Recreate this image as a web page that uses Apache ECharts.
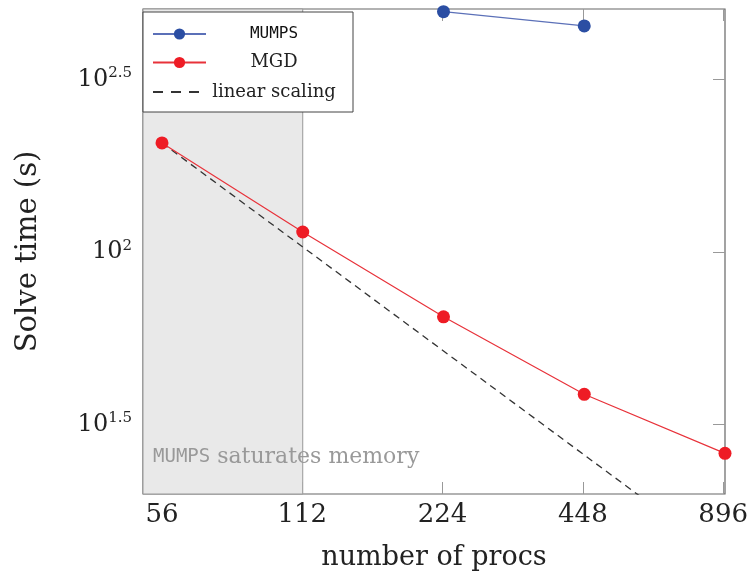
<!DOCTYPE html>
<html>
<head>
<meta charset="utf-8">
<script src="https://cdn.jsdelivr.net/npm/echarts@6/dist/echarts.min.js"></script>
<style>
  html, body { margin: 0; padding: 0; background: #fff; }
  #main { width: 751px; height: 577px; }
</style>
</head>
<body>
<div id="main"></div>
<script>
// processor counts and solve times (s)
var procs = [56, 112, 224, 448, 896];
var procLabels = ['56', '112', '224', '448', '896'];
var mumpsProcs = [224, 448];
var mumpsTime = [497, 452];
var mgdTime = [207, 114.3, 64.9, 38.7, 26.1];
var linearProcs = [56, 896];
var linearTime = [207, 12.9];
// y tick range (10^1.5 .. 10^2.5)
var yTickMin = 31.6227766;
var yTickMax = 316.227766;

var serif = '"DejaVu Serif", "Liberation Serif", serif';
var mono = '"DejaVu Sans Mono", "Liberation Mono", monospace';

function pairs(xs, ys) {
    var out = [];
    for (var i = 0; i < xs.length; i++) out.push([xs[i], ys[i]]);
    return out;
}

var tickStyle = { show: true, inside: true, length: 12, lineStyle: { color: '#999' } };

var myChart = echarts.init(document.getElementById('main'));
myChart.setOption({
    animation: false,
    grid: [
        // plot box
        { left: 143, right: 26, top: 9, bottom: 83, show: true, borderColor: '#666', borderWidth: 1.2 },
        // x ticks / labels
        { left: 162, right: 26, top: 9, bottom: 83 },
        // y ticks / labels
        { left: 143, right: 26, top: 79.5, bottom: 152.5 }
    ],
    legend: {
        orient: 'vertical',
        left: 143,
        top: 12,
        padding: [14, 16, 11, 9],
        itemWidth: 53,
        itemHeight: 14,
        itemGap: 11.5,
        backgroundColor: '#fff',
        borderColor: '#444',
        borderWidth: 1,
        formatter: function (name) {
            return name === 'MUMPS' ? '{m|' + name + '}' : '{a|' + name + '}';
        },
        textStyle: {
            rich: {
                a: { fontFamily: serif, fontSize: 18, color: '#222', width: 126, align: 'center', lineHeight: 20 },
                m: { fontFamily: mono, fontSize: 16, color: '#111', width: 126, align: 'center', lineHeight: 20 }
            }
        },
        data: [
            { name: 'MUMPS' },
            { name: 'MGD' },
            { name: 'linear scaling', itemStyle: { opacity: 0 }, lineStyle: { type: [10, 8] } }
        ]
    },
    graphic: [{
        type: 'text', left: 153, top: 446, z: 100, silent: true,
        style: {
            text: '{m|MUMPS}{t| saturates memory}',
            rich: {
                m: { fontFamily: mono, fontSize: 19, fill: '#999', lineHeight: 26 },
                t: { fontFamily: serif, fontSize: 22, fill: '#999', lineHeight: 26 }
            }
        }
    }],
    xAxis: [
        {
            type: 'log', logBase: 2, min: 51, max: 896, gridIndex: 0,
            name: 'number of procs', nameLocation: 'middle', nameGap: 50,
            nameTextStyle: { fontFamily: serif, fontSize: 27, color: '#222' },
            axisLine: { show: false }, axisTick: { show: false }, axisLabel: { show: false },
            splitLine: { show: false }
        },
        {
            type: 'category', data: procLabels, boundaryGap: false, gridIndex: 1, position: 'bottom',
            axisLine: { show: false },
            axisTick: tickStyle,
            axisLabel: { fontFamily: serif, fontSize: 26, color: '#222', margin: 8 },
            splitLine: { show: false }
        },
        {
            type: 'category', data: procLabels, boundaryGap: false, gridIndex: 1, position: 'top',
            axisLine: { show: false }, axisTick: tickStyle, axisLabel: { show: false },
            splitLine: { show: false }
        },
        { type: 'value', gridIndex: 2, show: false }
    ],
    yAxis: [
        {
            type: 'log', logBase: 10, min: 19.9, max: 506, gridIndex: 0,
            name: 'Solve time (s)', nameLocation: 'middle', nameGap: 100,
            nameTextStyle: { fontFamily: serif, fontSize: 29, color: '#222' },
            axisLine: { show: false }, axisTick: { show: false }, axisLabel: { show: false },
            splitLine: { show: false }
        },
        { type: 'value', gridIndex: 1, show: false },
        {
            type: 'log', logBase: 10, min: yTickMin, max: yTickMax, interval: 0.5, gridIndex: 2,
            axisLine: { show: false },
            axisTick: tickStyle,
            splitLine: { show: false },
            axisLabel: {
                margin: 11,
                formatter: function (v) {
                    var e = Math.round(Math.log10(v) * 2) / 2;
                    var s = (e % 1 === 0) ? String(e) : e.toFixed(1);
                    return '{b|10}{s|' + s + '}';
                },
                rich: {
                    b: { fontFamily: serif, fontSize: 24, color: '#222' },
                    s: { fontFamily: serif, fontSize: 15, color: '#222', verticalAlign: 'top', padding: [0, 0, 12, 0] }
                }
            }
        },
        {
            type: 'log', logBase: 10, min: yTickMin, max: yTickMax, interval: 0.5, gridIndex: 2, position: 'right',
            axisLine: { show: false }, axisTick: tickStyle, axisLabel: { show: false },
            splitLine: { show: false }
        }
    ],
    series: [
        {
            name: 'MUMPS', type: 'line', xAxisIndex: 0, yAxisIndex: 0,
            data: pairs(mumpsProcs, mumpsTime),
            symbol: 'circle', symbolSize: 13,
            itemStyle: { color: '#2b4ea3' },
            lineStyle: { color: '#5b70b8', width: 1.2 },
            z: 4
        },
        {
            name: 'MGD', type: 'line', xAxisIndex: 0, yAxisIndex: 0,
            data: pairs(procs, mgdTime),
            symbol: 'circle', symbolSize: 13,
            itemStyle: { color: '#ee1c25' },
            lineStyle: { color: '#e8323a', width: 1.2 },
            z: 4,
            markArea: {
                silent: true,
                itemStyle: { color: '#e9e9e9', borderColor: '#999', borderWidth: 1 },
                data: [[{ xAxis: 51 }, { xAxis: 112 }]]
            }
        },
        {
            name: 'linear scaling', type: 'line', xAxisIndex: 0, yAxisIndex: 0,
            data: pairs(linearProcs, linearTime),
            symbol: 'none',
            itemStyle: { color: '#333' },
            lineStyle: { color: '#333', width: 1.3, type: [7, 5] },
            z: 3
        }
    ]
});
</script>
</body>
</html>
